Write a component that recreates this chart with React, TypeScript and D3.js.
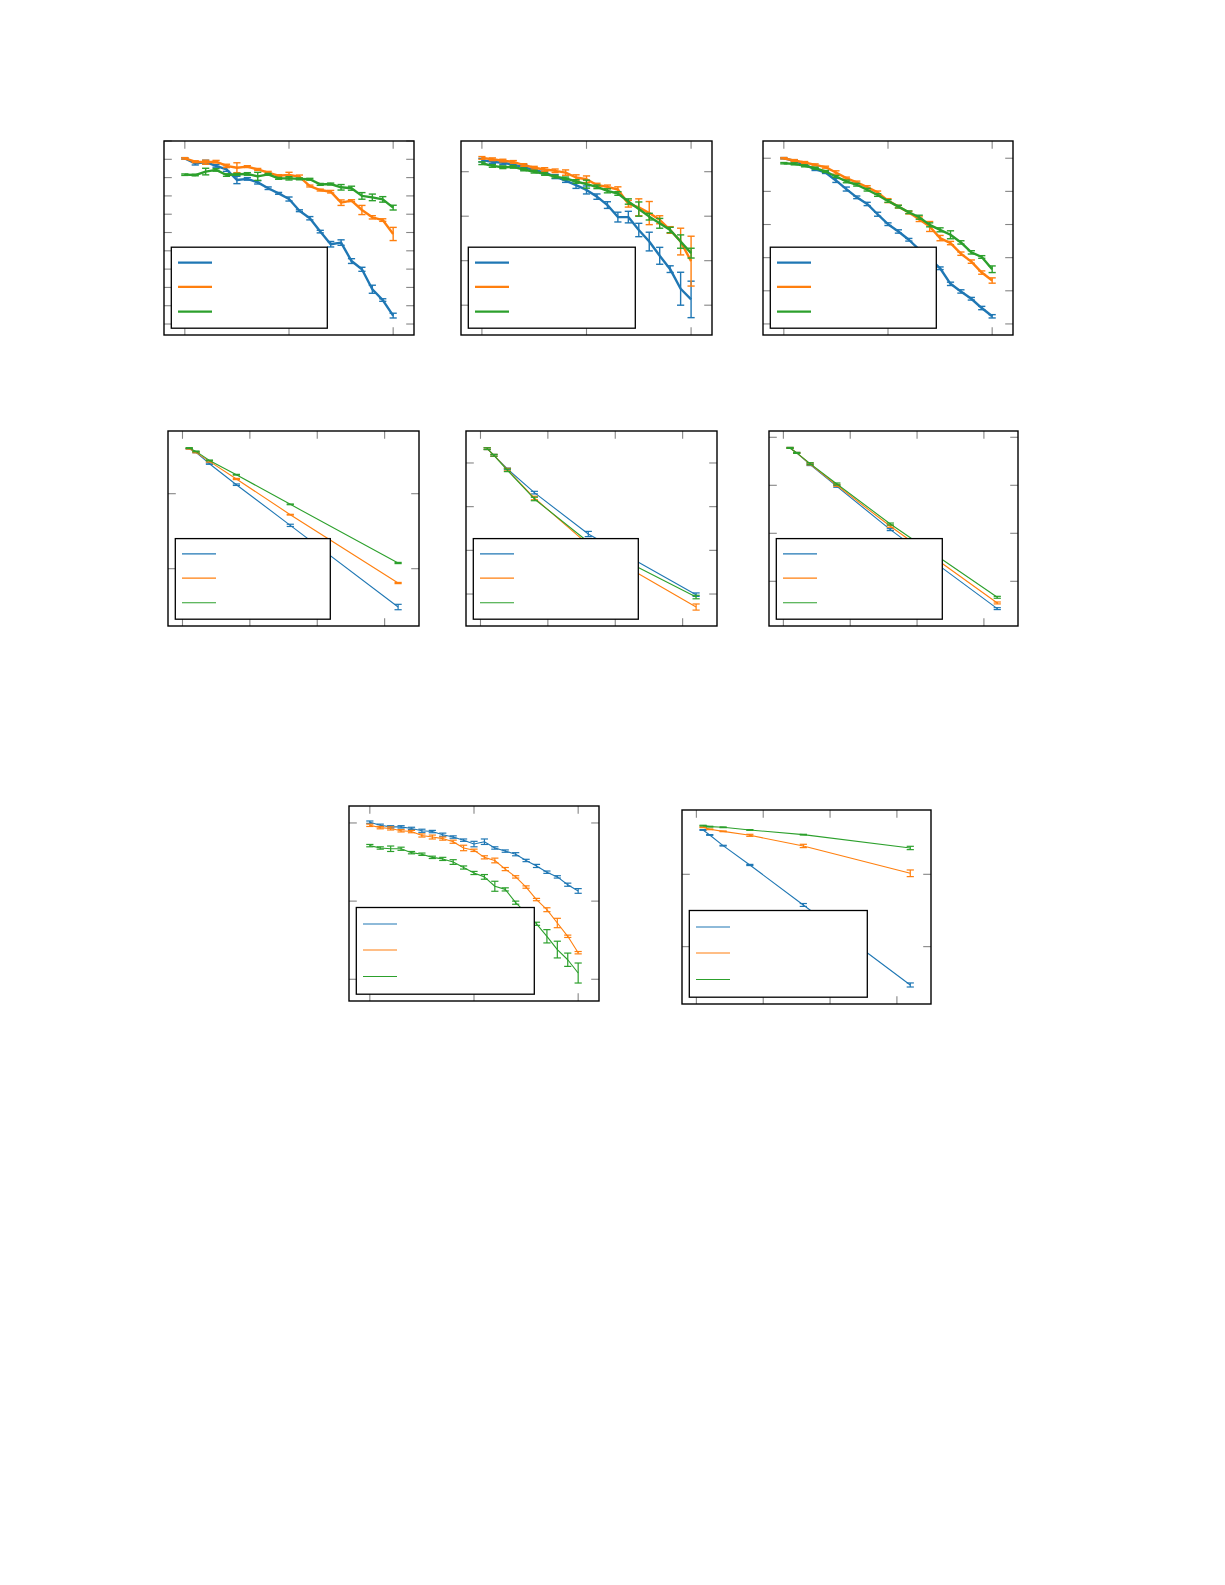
import * as d3 from 'd3';

const BLUE = '#1f77b4';
const ORANGE = '#ff7f0e';
const GREEN = '#2ca02c';
const SERIES_COLORS = [BLUE, ORANGE, GREEN];

// x values
const epochs = [0, 1, 2, 3, 4, 5, 6, 7, 8, 9, 10, 11, 12, 13, 14, 15, 16, 17, 18, 19, 20];
const sizes = [2, 4, 8, 16, 32, 64];

// panel 1
const p1Blue = [1.005, 0.978, 0.984, 0.964, 0.945, 0.887, 0.893, 0.874, 0.842, 0.814, 0.783, 0.719, 0.678, 0.605, 0.536, 0.545, 0.444, 0.399, 0.29, 0.231, 0.146];
const p1BlueErr = [0.004, 0.009, 0.011, 0.007, 0.011, 0.02, 0.007, 0.009, 0.007, 0.005, 0.011, 0.005, 0.009, 0.007, 0.015, 0.015, 0.013, 0.011, 0.022, 0.007, 0.013];
const p1Orange = [1.005, 0.987, 0.984, 0.987, 0.964, 0.954, 0.96, 0.945, 0.927, 0.911, 0.914, 0.905, 0.854, 0.832, 0.823, 0.763, 0.774, 0.723, 0.683, 0.668, 0.592];
const p1OrangeErr = [0.004, 0.005, 0.011, 0.007, 0.009, 0.027, 0.005, 0.005, 0.007, 0.005, 0.015, 0.009, 0.005, 0.005, 0.007, 0.015, 0.005, 0.025, 0.009, 0.007, 0.036];
const p1Green = [0.916, 0.914, 0.933, 0.942, 0.914, 0.918, 0.92, 0.907, 0.918, 0.896, 0.896, 0.893, 0.891, 0.863, 0.865, 0.847, 0.842, 0.8, 0.792, 0.781, 0.736];
const p1GreenErr = [0.004, 0.004, 0.018, 0.007, 0.007, 0.005, 0.007, 0.022, 0.005, 0.005, 0.009, 0.005, 0.005, 0.005, 0.005, 0.015, 0.011, 0.018, 0.018, 0.015, 0.013];

// panel 2
const p2Blue = [0.926, 0.922, 0.92, 0.916, 0.91, 0.904, 0.898, 0.889, 0.88, 0.87, 0.859, 0.844, 0.825, 0.798, 0.798, 0.769, 0.743, 0.711, 0.681, 0.637, 0.613];
const p2BlueErr = [0.004, 0.004, 0.004, 0.004, 0.006, 0.003, 0.003, 0.0045, 0.004, 0.0075, 0.009, 0.006, 0.0075, 0.011, 0.013, 0.015, 0.021, 0.019, 0.0075, 0.037, 0.041];
const p2Orange = [0.931, 0.928, 0.925, 0.922, 0.915, 0.909, 0.905, 0.902, 0.898, 0.887, 0.883, 0.87, 0.866, 0.86, 0.828, 0.82, 0.807, 0.792, 0.769, 0.743, 0.699];
const p2OrangeErr = [0.003, 0.003, 0.003, 0.003, 0.003, 0.003, 0.004, 0.004, 0.006, 0.006, 0.0075, 0.004, 0.004, 0.006, 0.0075, 0.019, 0.026, 0.009, 0.0075, 0.03, 0.056];
const p2Green = [0.919, 0.913, 0.91, 0.911, 0.905, 0.9, 0.895, 0.889, 0.885, 0.878, 0.872, 0.866, 0.857, 0.851, 0.833, 0.816, 0.799, 0.784, 0.769, 0.743, 0.717];
const p2GreenErr = [0.003, 0.003, 0.003, 0.003, 0.003, 0.003, 0.003, 0.003, 0.003, 0.004, 0.009, 0.004, 0.0045, 0.004, 0.006, 0.016, 0.0075, 0.011, 0.006, 0.015, 0.011];

// panel 3
const p3Blue = [1.0, 0.992, 0.98, 0.967, 0.957, 0.933, 0.907, 0.882, 0.862, 0.831, 0.801, 0.779, 0.754, 0.724, 0.698, 0.668, 0.621, 0.598, 0.576, 0.548, 0.523];
const p3BlueErr = [0.002, 0.003, 0.003, 0.004, 0.003, 0.006, 0.006, 0.004, 0.005, 0.006, 0.004, 0.005, 0.004, 0.004, 0.004, 0.004, 0.005, 0.005, 0.004, 0.005, 0.005];
const p3Orange = [1.0, 0.993, 0.987, 0.98, 0.973, 0.957, 0.94, 0.927, 0.913, 0.897, 0.872, 0.854, 0.836, 0.816, 0.794, 0.759, 0.744, 0.712, 0.688, 0.655, 0.631];
const p3OrangeErr = [0.002, 0.003, 0.003, 0.003, 0.003, 0.005, 0.003, 0.004, 0.004, 0.004, 0.006, 0.004, 0.004, 0.007, 0.015, 0.008, 0.005, 0.005, 0.005, 0.005, 0.008];
const p3Green = [0.985, 0.983, 0.977, 0.97, 0.96, 0.945, 0.93, 0.92, 0.905, 0.889, 0.871, 0.854, 0.837, 0.822, 0.799, 0.784, 0.769, 0.746, 0.716, 0.702, 0.665];
const p3GreenErr = [0.002, 0.003, 0.003, 0.003, 0.003, 0.003, 0.004, 0.004, 0.004, 0.004, 0.004, 0.004, 0.004, 0.006, 0.006, 0.006, 0.012, 0.005, 0.005, 0.004, 0.01];

// panel 4
const p4Blue = [0.6, 0.551, 0.4, 0.12, -0.422, -1.511];
const p4BlueErr = [0.005, 0.005, 0.008, 0.01, 0.015, 0.036];
const p4Orange = [0.6, 0.551, 0.431, 0.196, -0.28, -1.191];
const p4OrangeErr = [0.005, 0.005, 0.01, 0.008, 0.005, 0.008];
const p4Green = [0.609, 0.564, 0.444, 0.253, -0.142, -0.924];
const p4GreenErr = [0.005, 0.005, 0.005, 0.005, 0.005, 0.008];

// panel 5
const p5Blue = [1.328, 1.176, 0.863, 0.321, -0.626, -2.015];
const p5BlueErr = [0.02, 0.02, 0.02, 0.03, 0.06, 0.04];
const p5Orange = [1.328, 1.176, 0.847, 0.198, -0.87, -2.298];
const p5OrangeErr = [0.02, 0.02, 0.03, 0.04, 0.03, 0.07];
const p5Green = [1.328, 1.176, 0.832, 0.176, -0.809, -2.069];
const p5GreenErr = [0.02, 0.02, 0.03, 0.04, 0.03, 0.04];

// panel 6
const p6Blue = [0.778, 0.674, 0.431, -0.021, -0.924, -2.569];
const p6BlueErr = [0.01, 0.01, 0.02, 0.02, 0.02, 0.02];
const p6Orange = [0.778, 0.674, 0.444, 0.0, -0.854, -2.451];
const p6OrangeErr = [0.01, 0.01, 0.02, 0.02, 0.02, 0.02];
const p6Green = [0.778, 0.674, 0.451, 0.028, -0.806, -2.333];
const p6GreenErr = [0.01, 0.01, 0.02, 0.02, 0.02, 0.02];

// panel 7
const p7Blue = [1.001, 0.997, 0.995, 0.995, 0.993, 0.99, 0.989, 0.985, 0.982, 0.978, 0.973, 0.976, 0.968, 0.964, 0.96, 0.952, 0.945, 0.937, 0.931, 0.921, 0.913];
const p7BlueErr = [0.0015, 0.0015, 0.0015, 0.0015, 0.0015, 0.002, 0.0015, 0.002, 0.0015, 0.0015, 0.0035, 0.0035, 0.0015, 0.0015, 0.002, 0.0015, 0.002, 0.0015, 0.0015, 0.002, 0.003];
const p7Orange = [0.997, 0.994, 0.993, 0.99, 0.989, 0.984, 0.982, 0.98, 0.976, 0.968, 0.965, 0.956, 0.952, 0.941, 0.931, 0.918, 0.902, 0.889, 0.872, 0.855, 0.834];
const p7OrangeErr = [0.0015, 0.0015, 0.002, 0.0015, 0.0015, 0.002, 0.0025, 0.002, 0.002, 0.0035, 0.0015, 0.002, 0.003, 0.002, 0.0015, 0.0015, 0.0015, 0.0025, 0.006, 0.0015, 0.0015];
const p7Green = [0.971, 0.968, 0.967, 0.967, 0.962, 0.96, 0.956, 0.954, 0.95, 0.943, 0.936, 0.931, 0.919, 0.915, 0.898, 0.885, 0.871, 0.855, 0.838, 0.825, 0.808];
const p7GreenErr = [0.0015, 0.0015, 0.0035, 0.002, 0.0015, 0.0015, 0.0015, 0.002, 0.003, 0.002, 0.002, 0.003, 0.0064, 0.002, 0.002, 0.002, 0.002, 0.0085, 0.0107, 0.0085, 0.0128];

// panel 8
const p8Blue = [0.613, 0.544, 0.396, 0.129, -0.424, -1.53];
const p8BlueErr = [0.005, 0.005, 0.005, 0.008, 0.02, 0.028];
const p8Orange = [0.65, 0.622, 0.594, 0.539, 0.392, 0.014];
const p8OrangeErr = [0.005, 0.005, 0.005, 0.014, 0.023, 0.046];
const p8Green = [0.673, 0.659, 0.65, 0.613, 0.548, 0.364];
const p8GreenErr = [0.005, 0.005, 0.005, 0.005, 0.005, 0.023];

type Series = { y: number[]; err: number[] };
type Panel = {
  frame: [number, number, number, number];
  x: number[];
  xDomain: [number, number];
  xTicks: number[];
  yDomain: [number, number];
  yTicks: number[];
  series: Series[];
  lineWidth: number;
  legendW: number;
  legendH: number;
};

const ROW1 = { lineWidth: 2.4, legendH: 81 };
const ROW2 = { lineWidth: 1.1, legendH: 80.6 };
const ROW3 = { lineWidth: 1.1, legendH: 86.7 };

const panels: Panel[] = [
  {
    frame: [164, 141, 250, 194], x: epochs, xDomain: [-2, 22], xTicks: [0, 10, 20],
    yDomain: [0.04, 1.1], yTicks: [0.1, 0.2, 0.3, 0.4, 0.5, 0.6, 0.7, 0.8, 0.9, 1.0, 1.1],
    series: [{ y: p1Blue, err: p1BlueErr }, { y: p1Orange, err: p1OrangeErr }, { y: p1Green, err: p1GreenErr }],
    ...ROW1, legendW: 156,
  },
  {
    frame: [461, 141, 251, 194], x: epochs, xDomain: [-2, 22], xTicks: [0, 10, 20],
    yDomain: [0.533, 0.969], yTicks: [0.6, 0.7, 0.8, 0.9],
    series: [{ y: p2Blue, err: p2BlueErr }, { y: p2Orange, err: p2OrangeErr }, { y: p2Green, err: p2GreenErr }],
    ...ROW1, legendW: 167,
  },
  {
    frame: [763, 141, 250, 194], x: epochs, xDomain: [-2, 22], xTicks: [0, 10, 20],
    yDomain: [0.4666, 1.052], yTicks: [0.5, 0.6, 0.7, 0.8, 0.9, 1.0],
    series: [{ y: p3Blue, err: p3BlueErr }, { y: p3Orange, err: p3OrangeErr }, { y: p3Green, err: p3GreenErr }],
    ...ROW1, legendW: 166,
  },
  {
    frame: [168, 431, 251, 195], x: sizes, xDomain: [-4.3, 70.2], xTicks: [0, 20, 40, 60],
    yDomain: [-1.764, 0.836], yTicks: [-1, 0],
    series: [{ y: p4Blue, err: p4BlueErr }, { y: p4Orange, err: p4OrangeErr }, { y: p4Green, err: p4GreenErr }],
    ...ROW2, legendW: 155,
  },
  {
    frame: [466, 431, 251, 195], x: sizes, xDomain: [-4.3, 70.2], xTicks: [0, 20, 40, 60],
    yDomain: [-2.732, 1.732], yTicks: [-2, -1, 0, 1],
    series: [{ y: p5Blue, err: p5BlueErr }, { y: p5Orange, err: p5OrangeErr }, { y: p5Green, err: p5GreenErr }],
    ...ROW2, legendW: 165,
  },
  {
    frame: [769, 431, 249, 195], x: sizes, xDomain: [-4.3, 70.2], xTicks: [0, 20, 40, 60],
    yDomain: [-2.931, 1.131], yTicks: [-2, -1, 0, 1],
    series: [{ y: p6Blue, err: p6BlueErr }, { y: p6Orange, err: p6OrangeErr }, { y: p6Green, err: p6GreenErr }],
    ...ROW2, legendW: 166,
  },
  {
    frame: [349, 806, 250, 195], x: epochs, xDomain: [-2, 22], xTicks: [0, 10, 20],
    yDomain: [0.7722, 1.0217], yTicks: [0.8, 0.9, 1.0],
    series: [{ y: p7Blue, err: p7BlueErr }, { y: p7Orange, err: p7OrangeErr }, { y: p7Green, err: p7GreenErr }],
    ...ROW3, legendW: 178,
  },
  {
    frame: [682, 810, 249, 194], x: sizes, xDomain: [-4.3, 70.2], xTicks: [0, 20, 40, 60],
    yDomain: [-1.793, 0.889], yTicks: [-1, 0],
    series: [{ y: p8Blue, err: p8BlueErr }, { y: p8Orange, err: p8OrangeErr }, { y: p8Green, err: p8GreenErr }],
    ...ROW3, legendW: 178,
  },
];

const TICK_LEN = 7.8;
const TICK_COLOR = '#858585';
const CAP = 3.6;

const PanelView = ({ p, idx }: { p: Panel; idx: number }) => {
  const [fx, fy, fw, fh] = p.frame;
  const xs = d3.scaleLinear().domain(p.xDomain).range([fx, fx + fw]);
  const ys = d3.scaleLinear().domain(p.yDomain).range([fy + fh, fy]);
  const line = d3.line<number>().x((_, i) => xs(p.x[i])).y((d) => ys(d));
  const clipId = `clip-${idx}`;
  const errWidth = p.lineWidth > 2 ? 1.4 : 1.2;
  const lgX = fx + 7.3;
  const lgY = fy + fh - 6.8 - p.legendH;
  const rowFrac = [0.19, 0.49, 0.795];

  return (
    <g>
      <defs>
        <clipPath id={clipId}>
          <rect x={fx} y={fy} width={fw} height={fh} />
        </clipPath>
      </defs>
      <g clipPath={`url(#${clipId})`}>
        {p.series.map((s, si) => (
          <g key={si}>
            <path d={line(s.y) || ''} fill="none" stroke={SERIES_COLORS[si]} strokeWidth={p.lineWidth} strokeLinejoin="round" />
            {s.y.map((v, i) => {
              const cx = xs(p.x[i]);
              const y0 = ys(v - s.err[i]);
              const y1 = ys(v + s.err[i]);
              return (
                <g key={i} stroke={SERIES_COLORS[si]} strokeWidth={errWidth}>
                  <line x1={cx} x2={cx} y1={y0} y2={y1} />
                  <line x1={cx - CAP} x2={cx + CAP} y1={y0} y2={y0} />
                  <line x1={cx - CAP} x2={cx + CAP} y1={y1} y2={y1} />
                </g>
              );
            })}
          </g>
        ))}
      </g>
      <g stroke={TICK_COLOR} strokeWidth={1.1}>
        {p.xTicks.map((t) => (
          <g key={`x${t}`}>
            <line x1={xs(t)} x2={xs(t)} y1={fy + fh} y2={fy + fh - TICK_LEN} />
            <line x1={xs(t)} x2={xs(t)} y1={fy} y2={fy + TICK_LEN} />
          </g>
        ))}
        {p.yTicks.map((t) => (
          <g key={`y${t}`}>
            <line x1={fx} x2={fx + TICK_LEN} y1={ys(t)} y2={ys(t)} />
            <line x1={fx + fw} x2={fx + fw - TICK_LEN} y1={ys(t)} y2={ys(t)} />
          </g>
        ))}
      </g>
      <rect x={fx} y={fy} width={fw} height={fh} fill="none" stroke="#000" strokeWidth={1.4} />
      <rect x={lgX} y={lgY} width={p.legendW} height={p.legendH} fill="#fff" stroke="#000" strokeWidth={1.3} />
      {SERIES_COLORS.map((c, i) => (
        <line
          key={c}
          x1={lgX + 6.7}
          x2={lgX + 40.7}
          y1={lgY + p.legendH * rowFrac[i]}
          y2={lgY + p.legendH * rowFrac[i]}
          stroke={c}
          strokeWidth={p.lineWidth}
        />
      ))}
    </g>
  );
};

export default function App() {
  return (
    <svg
      width={1225}
      height={1585}
      style={{ position: 'absolute', left: 0, top: 0, background: '#fff' }}
    >
      <rect x={0} y={0} width={1225} height={1585} fill="#fff" />
      {panels.map((p, i) => (
        <PanelView key={i} p={p} idx={i} />
      ))}
    </svg>
  );
}
